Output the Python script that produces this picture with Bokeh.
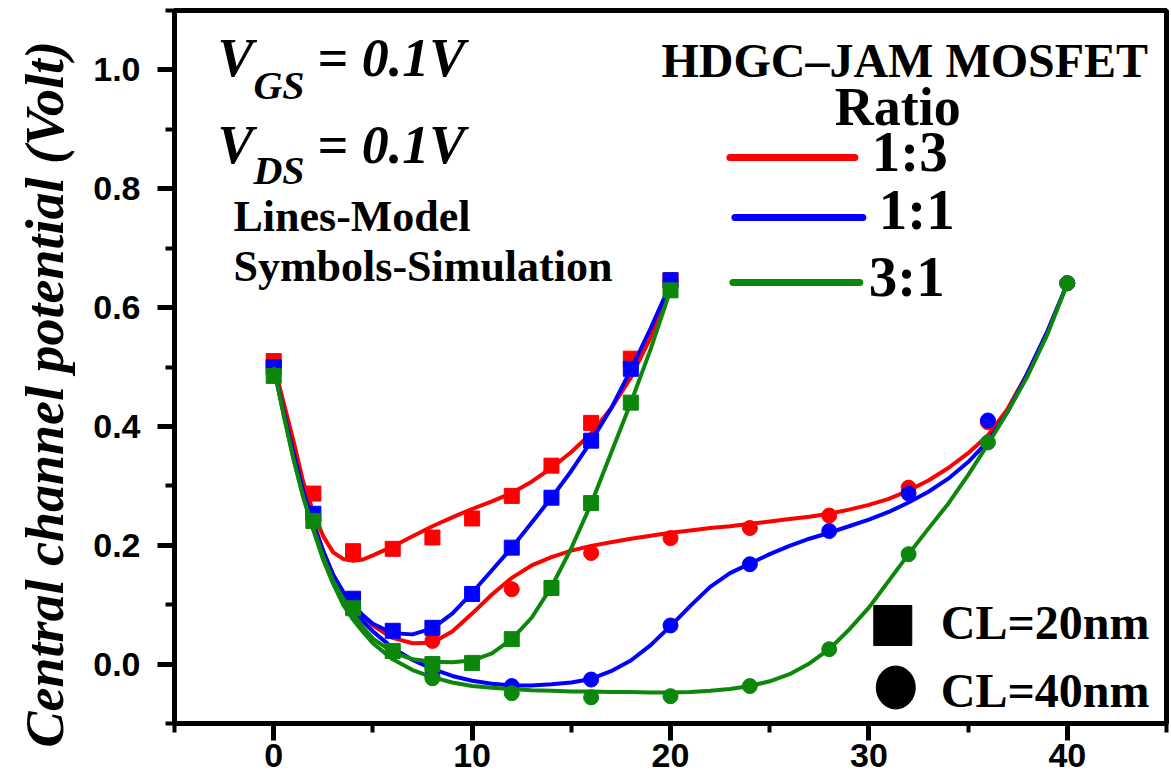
from bokeh.embed import file_html
from bokeh.models import (FixedTicker, Label, LinearAxis, PrintfTickFormatter,
                          SingleIntervalTicker, Title)
from bokeh.plotting import figure
from bokeh.resources import INLINE

# ---------------------------------------------------------------- data
# Simulation points, channel length 20 nm (squares), position in nm
x_sim20 = [0, 2, 4, 6, 8, 10, 12, 14, 16, 18, 20]
sim20_r13 = [0.510, 0.287, 0.190, 0.194, 0.213, 0.245, 0.283, 0.334, 0.406, 0.514, 0.646]
sim20_r11 = [0.500, 0.253, 0.110, 0.056, 0.061, 0.118, 0.196, 0.280, 0.376, 0.497, 0.646]
sim20_r31 = [0.485, 0.241, 0.094, 0.022, 0.000, 0.002, 0.042, 0.128, 0.271, 0.440, 0.629]

# Simulation points, channel length 40 nm (circles)
x_sim40 = [0, 4, 8, 12, 16, 20, 24, 28, 32, 36, 40]
sim40_r13 = [0.505, 0.106, 0.039, 0.126, 0.187, 0.212, 0.229, 0.250, 0.297, 0.407, 0.641]
sim40_r11 = [0.500, 0.105, -0.020, -0.037, -0.026, 0.065, 0.168, 0.224, 0.287, 0.410, 0.641]
sim40_r31 = [0.505, 0.093, -0.024, -0.049, -0.056, -0.054, -0.037, 0.025, 0.185, 0.373, 0.641]

# Analytical model curves
x_mod20 = [0, 0.5, 1, 1.5, 2, 2.5, 3, 3.5, 4, 4.5, 5, 6, 7, 8, 9, 10,
           11, 12, 13, 14, 15, 16, 17, 18, 19, 20]
mod20_r13 = [0.505, 0.440, 0.375, 0.305, 0.255, 0.215, 0.188, 0.177, 0.174, 0.176,
             0.183, 0.198, 0.215, 0.232, 0.247, 0.261, 0.274, 0.288, 0.307, 0.330,
             0.357, 0.388, 0.430, 0.482, 0.550, 0.635]
mod20_r11 = [0.500, 0.425, 0.355, 0.290, 0.235, 0.190, 0.150, 0.122, 0.100, 0.082,
             0.068, 0.052, 0.050, 0.060, 0.085, 0.120, 0.158, 0.196, 0.238, 0.280,
             0.325, 0.375, 0.430, 0.495, 0.565, 0.640]
mod20_r31 = [0.500, 0.420, 0.345, 0.280, 0.228, 0.180, 0.140, 0.110, 0.085, 0.062,
             0.043, 0.020, 0.008, 0.004, 0.003, 0.006, 0.018, 0.042, 0.078, 0.130,
             0.195, 0.270, 0.355, 0.440, 0.530, 0.630]

x_mod40 = [0, 0.5, 1, 1.5, 2, 2.5, 3, 3.5, 4, 4.5, 5, 6, 7, 8, 9, 10,
           11, 12, 13, 14, 15, 16, 17, 18, 19, 20, 21, 22, 23, 24, 25,
           26, 27, 28, 29, 30, 31, 32, 33, 34, 35, 36, 37, 38, 39, 40]
mod40_r13 = [0.505, 0.430, 0.360, 0.295, 0.240, 0.190, 0.150, 0.120, 0.098, 0.080,
             0.065, 0.044, 0.035, 0.036, 0.055, 0.085, 0.117, 0.145, 0.166, 0.180,
             0.191, 0.199, 0.205, 0.211, 0.216, 0.221, 0.225, 0.229, 0.232, 0.236,
             0.240, 0.244, 0.248, 0.253, 0.260, 0.268, 0.278, 0.292, 0.309, 0.330,
             0.355, 0.385, 0.430, 0.490, 0.560, 0.640]
mod40_r11 = [0.500, 0.425, 0.355, 0.290, 0.235, 0.185, 0.145, 0.115, 0.093, 0.072,
             0.055, 0.027, 0.007, -0.008, -0.020, -0.028, -0.033, -0.036, -0.036, -0.034,
             -0.031, -0.025, -0.012, 0.006, 0.032, 0.064, 0.098, 0.130, 0.153, 0.169,
             0.185, 0.199, 0.211, 0.221, 0.232, 0.243, 0.256, 0.272, 0.290, 0.312,
             0.340, 0.375, 0.425, 0.490, 0.560, 0.640]
mod40_r31 = [0.500, 0.420, 0.345, 0.280, 0.225, 0.175, 0.135, 0.100, 0.075, 0.054,
             0.035, 0.008, -0.010, -0.022, -0.031, -0.037, -0.040, -0.042, -0.044, -0.045,
             -0.046, -0.046, -0.047, -0.047, -0.048, -0.048, -0.047, -0.045, -0.042, -0.037,
             -0.029, -0.017, 0.001, 0.025, 0.058, 0.095, 0.140, 0.185, 0.228, 0.270,
             0.318, 0.370, 0.425, 0.485, 0.555, 0.640]

ratio_labels = ["1:3", "1:1", "3:1"]
ratio_colors = ["#ff0000", "#0000ff", "#0c870c"]

# ---------------------------------------------------------------- figure
X_RANGE = (-5, 45)
Y_RANGE = (-0.1, 1.1)
LEFT, RIGHT, TOP, BOTTOM = 173, 5, 10, 60
W, H = 1171, 783
FRAME_W = W - LEFT - RIGHT
FRAME_H = H - TOP - BOTTOM

SERIF = "Liberation Serif"
SANS = "Liberation Sans"


def px2x(px):
    """Canvas pixel column -> data x (for placing annotations)."""
    return X_RANGE[0] + (px - LEFT) / FRAME_W * (X_RANGE[1] - X_RANGE[0])


def px2y(py):
    """Canvas pixel row -> data y (for placing annotations)."""
    return Y_RANGE[1] - (py - TOP) / FRAME_H * (Y_RANGE[1] - Y_RANGE[0])


p = figure(width=W, height=H, x_range=X_RANGE, y_range=Y_RANGE,
           output_backend="svg", toolbar_location=None,
           min_border_left=LEFT, min_border_right=RIGHT,
           min_border_top=TOP, min_border_bottom=BOTTOM)
p.background_fill_color = "white"
p.border_fill_color = "white"
p.xgrid.visible = False
p.ygrid.visible = False
p.outline_line_color = "black"
p.outline_line_width = 5
p.outline_line_alpha = 1.0

p.xaxis.ticker = SingleIntervalTicker(interval=10, num_minor_ticks=2)
p.yaxis.ticker = SingleIntervalTicker(interval=0.2, num_minor_ticks=2)
p.yaxis.formatter = PrintfTickFormatter(format="%.1f")
for ax in (p.xaxis, p.yaxis):
    ax.axis_line_width = 5
    ax.axis_line_color = "black"
    ax.major_tick_line_width = 5
    ax.minor_tick_line_width = 4
    ax.major_tick_out = 17
    ax.major_tick_in = 0
    ax.minor_tick_out = 9
    ax.minor_tick_in = 0
    ax.major_label_text_font = SANS
    ax.major_label_text_font_style = "bold"
    ax.major_label_text_font_size = "34px"
    ax.major_label_text_color = "black"
p.xaxis.major_label_standoff = 3
p.yaxis.major_label_standoff = 17

# plain top edge of the box (no ticks, no labels)
top_edge = LinearAxis(ticker=FixedTicker(ticks=[], minor_ticks=[]),
                      axis_line_width=5, axis_line_color="black",
                      major_tick_out=0, major_tick_in=0,
                      minor_tick_out=0, minor_tick_in=0,
                      major_label_standoff=0)
p.add_layout(top_edge, "above")

# y axis title, set as a side title so it can start below the frame
ytitle = Title(text="Central channel potential (Volt)", align="left", offset=-24,
               vertical_align="top",
               text_font=SERIF, text_font_style="bold italic",
               text_font_size="54px", text_color="black", standoff=28)
p.add_layout(ytitle, "left")

# ---------------------------------------------------------------- series
groups = [
    (x_mod40, [mod40_r13, mod40_r11, mod40_r31],
     x_sim40, [sim40_r13, sim40_r11, sim40_r31], "circle", 15),
    (x_mod20, [mod20_r13, mod20_r11, mod20_r31],
     x_sim20, [sim20_r13, sim20_r11, sim20_r31], "square", 15),
]
for xm, models, xs, sims, marker, msize in groups:
    for ym, ys, color in zip(models, sims, ratio_colors):
        p.line(xm, ym, line_color=color, line_width=4, line_join="round")
        p.scatter(xs, ys, marker=marker, size=msize,
                  fill_color=color, line_color=color)

# ---------------------------------------------------------------- texts
BASELINE_LIFT = 0.375  # labels render ~0.375 em below the requested baseline


def add_text(px, py, text, size, style="bold", font=SERIF, align="left"):
    p.add_layout(Label(x=px2x(px), y=px2y(py - BASELINE_LIFT * size), text=text,
                       text_font=font, text_font_style=style,
                       text_font_size=f"{size}px", text_color="black",
                       text_align=align, text_baseline="alphabetic"))


# bias conditions
add_text(216, 78, "V", 54, style="bold italic")
add_text(252, 100, "GS", 40, style="bold italic")
add_text(316, 78, "= 0.1V", 54, style="bold italic")
add_text(216, 165, "V", 54, style="bold italic")
add_text(252, 185, "DS", 40, style="bold italic")
add_text(316, 165, "= 0.1V", 54, style="bold italic")

add_text(232, 232, "Lines-Model", 44)
add_text(232, 282, "Symbols-Simulation", 44)

# ratio key
add_text(904, 78, "HDGC\u2013JAM MOSFET", 48, align="center")
add_text(897, 127, "Ratio", 54, align="center")
key_rows = [(729, 854, 157, 871, 172), (734, 862, 217, 878, 230), (732, 859, 282, 868, 297)]
for (x0, x1, yl, xt, yt), lab, color in zip(key_rows, ratio_labels, ratio_colors):
    p.segment(x0=[px2x(x0)], y0=[px2y(yl)], x1=[px2x(x1)], y1=[px2y(yl)],
              line_color=color, line_width=7, line_cap="round")
    add_text(xt, yt, lab, 57)

# channel length key
p.rect(x=[px2x(892)], y=[px2y(625)], width=38, height=40,
       width_units="screen", height_units="screen",
       fill_color="black", line_color="black")
p.ellipse(x=[px2x(895)], y=[px2y(687)], width=39, height=43,
          width_units="screen", height_units="screen",
          fill_color="black", line_color="black")
add_text(940, 640, "CL=20nm", 48)
add_text(940, 708, "CL=40nm", 48)

open("out.html", "w").write(file_html(p, INLINE))
